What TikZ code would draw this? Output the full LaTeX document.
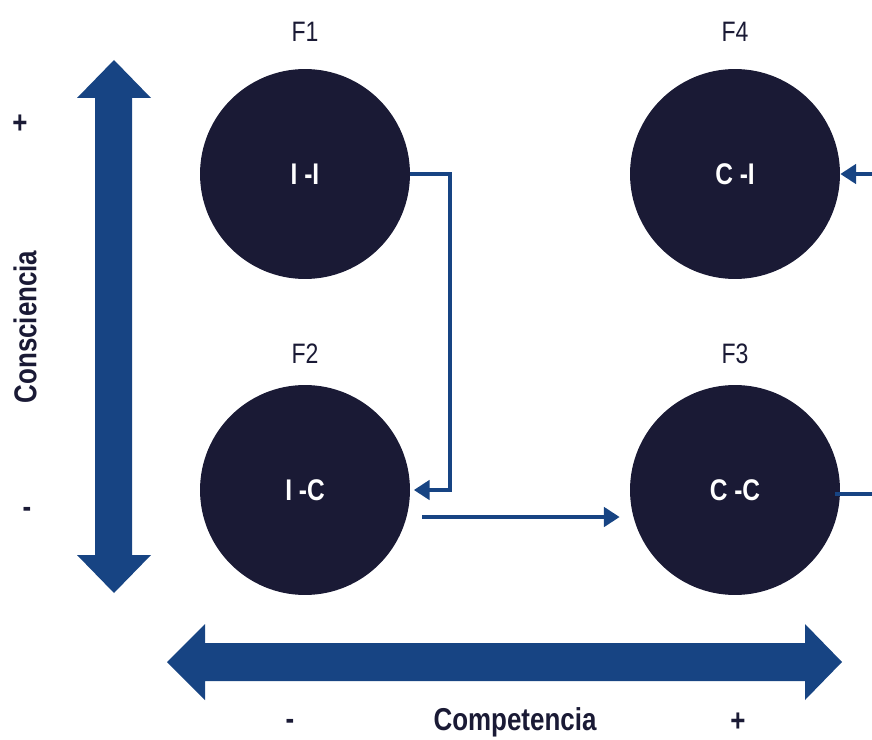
\documentclass[tikz,border=0pt]{standalone}
\usepackage{fontspec}
\setmainfont{Liberation Sans}[FakeStretch=0.82]
\usetikzlibrary{arrows.meta,calc}
\definecolor{navy}{HTML}{1A1A35}
\definecolor{azul}{HTML}{174483}
\begin{document}
\begin{tikzpicture}[x=0.02cm,y=-0.02cm,
		fase/.style={circle, fill=navy, minimum size=4.2cm, inner sep=0pt, text=white, font=\bfseries\fontsize{17}{19}\selectfont},
		etiq/.style={text=navy, font=\fontsize{16}{18}\selectfont},
		eje/.style={text=navy, font=\bfseries\fontsize{18}{20}\selectfont},
		flecha/.style={draw=azul, line width=2.2pt, -{Triangle[length=9pt,width=11pt]}}]
	\useasboundingbox (0,0) rectangle (872,740);
	% ejes
	\fill [azul] (95,98) -- (77,98) -- (114,60) -- (151,98) -- (132,98) -- (132,555) -- (151,555) -- (114,593) -- (77,555) -- (95,555) -- cycle;
	\fill [azul] (205,643) -- (205,624) -- (167,662) -- (205,700) -- (205,681) -- (805,681) -- (805,700) -- (842,662) -- (805,624) -- (805,643) -- cycle;
	\node [eje, rotate=90] (consc) at (25,327) {Consciencia};
	\node [eje] (mas1) at (20,124) {+};
	\node [eje] (menos1) at (27,512) {-};
	\node [eje] (comp) at (515,722) {Competencia};
	\node [eje] (menos2) at (290,724) {-};
	\node [eje] (mas2) at (738,722) {+};
	% fases
	\node [fase] (ii) at (305,174) {I -I};
	\node [fase] (ic) at (305,490) {I -C};
	\node [fase] (ci) at (735,174) {C -I};
	\node [fase] (cc) at (735,490) {C -C};
	\node [etiq] (f1) at (305,32) {F1};
	\node [etiq] (f4) at (735,32) {F4};
	\node [etiq] (f2) at (305,354) {F2};
	\node [etiq] (f3) at (735,354) {F3};
	% conectores
	\coordinate (codo) at (450,174);
	\coordinate (entra) at (872,174);
	\coordinate (sale) at (872,494);
	\draw [flecha, shorten >=2pt] (ii.east) -- (codo) |- (ic.east);
	\draw [flecha] ($(ic.east)+(12,27)$) -- ($(cc.west)+(-10,27)$);
	\draw [flecha] (entra) -- (ci.east);
	\draw [draw=azul, line width=2.2pt] ($(cc.east)+(-5,4)$) -- (sale);
\end{tikzpicture}
\end{document}
